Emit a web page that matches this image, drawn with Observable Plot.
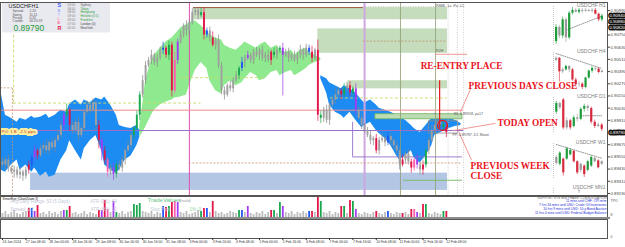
<!DOCTYPE html>
<html><head><meta charset="utf-8">
<script src="https://cdn.jsdelivr.net/npm/d3@7"></script>
<script src="https://cdn.jsdelivr.net/npm/@observablehq/plot@0.6"></script>
<style>
html,body{margin:0;padding:0;background:#fff;}
#wrap{position:relative;width:625px;height:247px;overflow:hidden;background:#fff;}
#wrap svg{position:absolute;}
.sep{position:absolute;background:#8c8c8c;}
</style></head><body><div id="wrap"></div>
<script>
// ---------- main H1 series (2-hour bars, prices in pips: 8979 = 0.89790) ----------
const firstOpen = 8950;
const closes = [
8947,8952,8944,8940,8942,8937,8940,8936,8942,8947,
8954,8961,8956,8963,8966,8961,8969,8964,8971,8976,
8986,8996,9001,8986,8981,8989,8976,8983,8999,9006,
9001,9008,8986,8971,8961,8952,8940,8944,8938,8947,
8944,8952,8961,8966,8976,8983,8996,9016,9030,9045,
9050,9055,9048,9052,9060,9062,9055,9065,9020,9050,
9068,9075,9084,9079,9087,9097,9099,9094,9097,9075,
9079,9072,9065,9070,9045,9020,9016,9025,9022,9030,
9035,9042,9048,9052,9055,9050,9058,9055,9060,9052,
9055,9050,9058,9055,9060,9062,9055,9058,9052,9055,
9050,9055,9060,9055,9062,9058,9052,9060,8996,8993,
9001,8991,9006,9011,9016,9020,9016,9022,9025,9018,
9022,9001,8993,8986,8981,8976,8971,8973,8961,8971,
8973,8969,8975,8971,8966,8961,8947,8952,8958,8950,
8944,8952,8947,8942,8947,8961,8971,8981,8986,8989,
8987,8984,8979];
const wickUp = [
4,3,5,2,4,3,5,2,3,4, 3,5,2,4,3,6,2,4,3,5, 4,3,6,2,4,3,5,3,2,4, 3,4,2,5,3,4,2,3,5,2,
4,3,2,5,3,2,4,3,5,4, 3,5,2,4,3,6,2,4,3,8, 3,4,2,5,3,4,3,2,4,5, 3,4,6,2,5,3,4,2,5,3,
4,2,5,3,4,2,3,5,2,4, 3,5,2,4,3,2,5,3,4,2, 4,3,5,2,4,3,6,2,10,4, 3,5,2,4,6,3,2,5,3,4,
2,5,3,4,2,3,5,2,4,3, 5,2,4,3,2,4,3,5,2,4, 3,2,5,3,4,2,3,5,2,4, 3,2,4];
const wickDn = [
3,5,4,2,6,3,4,5,3,4, 5,3,4,2,5,3,4,3,5,2, 3,5,2,6,4,3,5,2,4,3, 4,2,5,8,10,4,5,3,6,4,
3,4,5,2,3,4,2,5,3,4, 2,4,3,5,2,4,3,5,6,3, 4,2,3,5,4,2,3,4,2,5, 3,4,2,5,3,4,5,2,3,4,
2,4,3,5,2,3,4,2,5,3, 4,2,5,3,4,3,40,2,4,3, 2,4,3,5,2,3,4,2,6,5, 4,3,5,2,4,3,5,2,3,4,
3,5,2,4,3,2,4,5,3,4, 2,4,3,5,4,3,5,2,4,3, 5,3,4,5,5,3,4,2,3,4, 2,4,5];
const barColorCodes = ["gggggggggr","bprggggggg","gpGrgggggg","gggrprkgpG","gggggGGGgg",
"gggggbrGrk","pgggggggGr","bgrggggggg","gGbgpggggg","ggrGgGpggg","gggggbrgrG",
"ggggggrGgr","Gpggggggrg","ggbggggrgg","rkpgrGgggg","gGr"].join("");
const volumes = [
4,6,3,5,7,4,3,5,6,9, 9,6,12,4,5,3,6,4,5,3, 6,7,7,11,4,5,3,4,6,3, 5,4,3,7,7,17,8,5,16,5,
4,6,3,5,6,13,12,14,6,5, 4,6,3,5,4,11,10,11,15,16, 15,5,4,6,3,4,5,7,6,9, 9,5,16,6,4,5,3,4,6,5,
4,7,7,5,11,4,3,5,4,6, 3,5,7,7,4,15,11,5,4,6, 3,5,4,6,4,6,6,5,21,16, 5,4,6,3,5,4,11,11,4,17,
16,8,4,3,5,4,3,5,6,4, 3,5,6,4,3,5,4,4,5,3, 8,8,5,4,13,13,4,3,5,4, 3,6,6];

const timeTickIdx = [0,8,16,24,32,40,48,56,64,72,80,88,96,104,112,120,128,136,144,152];
const timeLabels = ["24 Jan 2014","27 Jan 08:00","28 Jan 00:00","28 Jan 16:00","29 Jan 08:00",
"30 Jan 00:00","30 Jan 16:00","31 Jan 08:00","3 Feb 00:00","3 Feb 16:00","4 Feb 08:00",
"5 Feb 00:00","5 Feb 16:00","6 Feb 08:00","7 Feb 00:00","7 Feb 16:00","10 Feb 08:00",
"11 Feb 00:00","11 Feb 16:00","12 Feb 08:00"];
const priceTicks = [9099,9087,9075,9063,9051,9039,9027,9015,9003,8991,8967,8955,8943,8931,8919];
const axisMarkers = [9094,9088,9082,8979];

// ---------- cloud bands ----------
const blueAIdx = [-0.6,1,3,5,6,8,10,11,13,15,16,18,20,22,23,25,27,28,30,32,34,35,37,39,40,42,44,46,47];
const blueATop = [9020,8996,8993,8989,8993,8991,8995,8993,8994,8997,8993,8996,9001,8999,9007,9011,9006,9011,9008,9013,9011,9014,9006,8996,8986,8984,8983,8986,8981];
const blueABot = [8942,8940,8947,8952,8942,8947,8940,8944,8936,8940,8935,8937,8952,8961,8971,8961,8952,8963,8971,8976,8961,8947,8942,8939,8942,8952,8956,8966,8974];
const greenIdx = [47,48,49,51,52,54,56,58,59,61,63,64,66,68,70,71,73,75,76,78,80,82,83,85,87,88,90,92,94,95,97,99,100,102,104,105,107,109];
const greenTop = [8986,9006,9030,9050,9055,9062,9068,9072,9075,9082,9085,9087,9089,9084,9079,9075,9072,9070,9065,9062,9060,9065,9068,9065,9062,9065,9068,9062,9065,9060,9058,9060,9055,9060,9062,9058,9055,9052];
const greenBot = [8974,8979,8984,8996,9001,9006,9009,9011,9013,9014,9016,9025,9040,9048,9042,9030,9020,9017,9025,9030,9025,9028,9032,9038,9035,9030,9032,9038,9040,9035,9038,9040,9035,9038,9042,9045,9048,9050];
const blue2Idx = [109,111,112,114,116,117,119,121,123,124,126,128,129,131,133,135,136,138,140,141,143,145,147,148,150,152,153,155,157];
const blue2Top = [9035,9032,9028,9025,9022,9025,9022,9018,9011,9008,9011,9006,9003,9001,8999,8996,8994,8991,8986,8983,8979,8986,8993,8998,8996,8994,8993,8991,8988];
const blue2Bot = [9032,9018,9006,8999,8996,8993,8999,8991,8984,8986,8989,8981,8978,8973,8966,8956,8952,8956,8961,8954,8949,8956,8966,8976,8979,8981,8983,8985,8986];

// ---------- zones and levels (bar index / pips) ----------
const supplyZones = [{a:65.4,b:152.4,lo:9090,hi:9102},{a:108,b:152.4,lo:9057,hi:9081},{a:118.2,b:152.4,lo:9022,hi:9030}];
const demandZones = [{a:9.6,b:152.4,lo:8922,hi:8939}];
const minorZones = [{a:127.7,b:157.5,lo:8992,hi:8997}];
const pivotBoxes = [{a:146,b:156,lo:8978,hi:8990}];
const redLevels = [{p:9001,from:-0.6,to:157.8}];
const purpleLevels = [{p:8981,from:-0.6,to:158}];
const limeLevels = [{p:9008,from:3.8,to:68},{p:9033,from:61,to:90},{p:9013,from:112.3,to:152.4}];
const limeVerticals = [{i:3.8,from:9008,to:9077}];
const brownLevels = [{p:9102,from:65.4,to:123.6}];
const tanLevels = [{p:9069,from:123.6,to:152.4},{p:8949,from:64,to:157.5},{p:9023,from:-0.6,to:3.4}];
const tanVerticals = [{i:3.4,from:8917,to:9023}];
const greyDottedLevels = [{p:9103,from:123.6,to:157.9}];
const violetLevels = [{p:8955,from:119.9,to:157.5}];
const violetVerticals = [{i:119.9,from:8955,to:8989}];
const greenLevels = [{p:8932,from:137.3,to:157.5}];
const salmonLevels = [{p:9056,from:148.3,to:159.3}];
const weekOpenFeb3 = [64];
const weekOpenFeb10 = [124];
const sessionMarks = [136.3,148.3];
const futureMarks = [152.6,155.8,157.9];

// ---------- annotations ----------
const annotations = [
 {t:"RE-ENTRY PLACE",i:143.2,p:9044},{t:"PREVIOUS DAYS CLOSE",i:159.6,p:9025},
 {t:"TODAY OPEN",i:169.5,p:8988},{t:"PREVIOUS WEEK",i:160.3,p:8946},{t:"CLOSE",i:160.3,p:8936}];
const reEntryLine = [{i:149.7,from:9030,to:8983}];
const reEntryCircle = [{i:150.7,p:8986}];
const leaders = [{i1:160.3,p1:9022,i2:156.8,p2:8999},{i1:168.8,p1:8988,i2:154.5,p2:8981},{i1:160.6,p1:8952,i2:156.2,p2:8980}];
const levelLabels = [{t:"S1, 0.89918, p=17",i:154.5,p:8997},{t:"PP, 0.89787, D1 Shoot",i:154.1,p:8977},{t:"R2H",i:148.5,p:9059},{t:"R888   Lc  Pv  LC",i:148.5,p:9104}];
const poLabel = [{t:"PO: 1 B  -2.5 pips",i:-0.3,p:8980}];
const infoBox = [{a:0,b:37,lo:9077,hi:9106}];
const infoTitle = ["USDCHF","H1"];
const infoRows = ["Spread","Swing","Period","Candle"];
const infoVals = ["2.20","11.11","0.32","00:20:19"];
const bidPrice = "0.89790";
const sessionLetters = ["S","S","T","L","E","R"];
const sessionTimes = ["03:00","08:00","08:00","09:00","09:00","07:00","02:00"];
const sessionCities = ["Sydney","Tokyo","Hongkong","Helsinki (0:1)","Frankfurt","London (0)","NewYork"];
const newsLines = ["11 mins until CHF: CPI m/m","7 hrs 34 mins until USD: Crude Oil Inventories","10 hrs 9 mins until USD: 10-y Bond Auction","11 hrs 4 mins until USD: Federal Budget Balance"];
const panelTexts = ["SmartEye (ChartZoom 3)","Avg Daily Range: 53 (5 Days)","Spread: 2.2","ATR (D1): 69","ATR (H1): 12","TradeValues","(Invalid)","Stop Pips:","1%: 0"];

// ---------- mini charts ----------
const h1Open=[8958,8973,8964,8981,8962,8988,8991,8989,8991,8990,8991,8990,8991,8987,8981];
const h1Close=[8973,8964,8981,8962,8988,8991,8989,8991,8990,8991,8990,8991,8987,8981,8985];
const h1High=[8976,8975,8984,8983,8990,8994,8993,8993,8993,8993,8992,8993,8993,8988,8987];
const h1Low=[8955,8961,8961,8957,8960,8986,8988,8987,8988,8989,8989,8988,8986,8979,8979];
const h1Codes="GgGgGGgGggggrrG";
const h4Open=[8988,8991,8971,8974,8979,8974,8959,8952,8953,8948,8962,8972,8976,8975,8970];
const h4Close=[8991,8971,8974,8979,8974,8959,8952,8953,8948,8962,8972,8976,8975,8970,8972];
const h4High=[8993,8992,8977,8981,8980,8976,8962,8957,8955,8963,8974,8979,8978,8977,8974];
const h4Low=[8986,8956,8968,8972,8970,8957,8949,8948,8945,8946,8960,8969,8972,8968,8969];
const h4Codes="grgGgrrgrGGGgrg";
const d1Open=[8980,8992,8997,8958,8968,8960,8972,8970,8984,8988,8985,8966,8960,8962];
const d1Close=[8992,8986,8958,8968,8958,8972,8970,8984,8988,8985,8966,8960,8962,8956];
const d1High=[8995,8994,8999,8972,8970,8975,8977,8986,8991,8990,8987,8969,8965,8964];
const d1Low=[8977,8983,8955,8955,8955,8958,8966,8968,8980,8981,8963,8957,8958,8953];
const d1Codes="GgrgrGgGGgrrgr";
const w1Open=[8970,8946,8964,8964,8979,8991,8955,8925,8940,8925,8940,8967,8958,8946];
const w1Close=[8949,8985,8916,9000,8994,8955,8916,8946,8910,8955,8970,8955,8934,8955];
const w1High=[8976,8990,8968,9005,9000,8994,8958,8950,8944,8960,8975,8970,8962,8958];
const w1Low=[8943,8940,8905,8960,8975,8950,8910,8915,8900,8920,8935,8950,8930,8942];
const w1Codes="gGrGGrrgrGGgrg";
const mn1Open=[8975], mn1Close=[8979], mn1High=[8990], mn1Low=[8960], mn1Codes="g";
const h1TrendIdx=[3,14], h1TrendP=[8970,8985];
const h4TrendIdx=[0,14], h4TrendP=[8998,8976];
const d1TrendIdx=[7,13], d1TrendP=[8975,8975];
const w1TrendIdx=[0,13], w1TrendP=[9015,8967];

// ================= build =================
const wrap = document.getElementById("wrap");
const FONT = "Liberation Sans, Arial, sans-serif";
const palette = {g:"#a0a0a0", r:"#e3164a", G:"#1aa84f", b:"#2356f5", p:"#a23cf0", k:"#ff5fb0"};
const volPalette = {...palette, g:"#bdbdbd"};
const miniPalette = {g:"#9a9a9a", r:"#d42a3c", G:"#1e9c3c"};
const X_DOMAIN = [-0.685, 207.19];

const candles = closes.map((c,i)=>{
  const o = i===0 ? firstOpen : closes[i-1];
  return {i, o, c, h: Math.max(o,c)+wickUp[i], l: Math.min(o,c)-wickDn[i], col: barColorCodes[i], v: volumes[i]};
});
const band = (idx, top, bot) => idx.map((i,k)=>({i, top: top[k], bot: bot[k]}));
const blueA = band(blueAIdx, blueATop, blueABot);
const greenB = band(greenIdx, greenTop, greenBot);
const blueB = band(blue2Idx, blue2Top, blue2Bot);

function place(svg, left, top){ svg.style.position="absolute"; svg.style.left=left+"px"; svg.style.top=top+"px"; wrap.appendChild(svg); }

// ---- mini charts (drawn first, under the main layer) ----
function mini(o,c,h,l,codes,tIdx,tP,title,top,height){
  const data = o.map((v,k)=>({k,o:v,c:c[k],h:h[k],l:l[k],col:codes[k]}));
  const trend = tIdx.map((k,j)=>({k,p:tP[j]}));
  const svg = Plot.plot({
    width:57, height, marginLeft:3, marginRight:3, marginTop:6, marginBottom:1,
    x:{domain:[-0.8, o.length-0.2], axis:null}, y:{axis:null, insetTop:1, insetBottom:1},
    style:{background:"transparent", fontFamily:FONT, overflow:"visible"},
    marks:[
      Plot.ruleX([-0.8], {stroke:"#aaa", strokeDasharray:"1,1", strokeWidth:0.7}),
      Plot.line(trend, {x:"k", y:"p", stroke:"#666", strokeDasharray:"1,1.3", strokeWidth:0.7}),
      Plot.ruleX(data, {x:"k", y1:"l", y2:"h", stroke:d=>miniPalette[d.col], strokeWidth:0.6}),
      Plot.ruleX(data, {x:"k", y1:"o", y2:"c", stroke:d=>miniPalette[d.col], strokeWidth:2.2}),
      Plot.text([title], {frameAnchor:"top-right", dy:-3, dx:1, text:d=>d, textAnchor:"end", fontSize:5, fill:"#808080"})
    ]});
  place(svg, 550, top);
}
mini(h1Open,h1Close,h1High,h1Low,h1Codes,h1TrendIdx,h1TrendP,"USDCHF H1",0,46);
mini(h4Open,h4Close,h4High,h4Low,h4Codes,h4TrendIdx,h4TrendP,"USDCHF H4",46,45);
mini(d1Open,d1Close,d1High,d1Low,d1Codes,d1TrendIdx,d1TrendP,"USDCHF D1",91,42);
mini(w1Open,w1Close,w1High,w1Low,w1Codes,w1TrendIdx,w1TrendP,"USDCHF W1",137,42);
mini(mn1Open,mn1Close,mn1High,mn1Low,mn1Codes,[],[],"USDCHF MN1",182,13);

// ---- main chart ----
const at = (text, x, y, o={}) => Plot.text([text], {frameAnchor:"top-left", dx:x, dy:y-2, text:d=>d, textAnchor:"start", lineAnchor:"middle", fontSize:3.3, fill:"#555", ...o});
const infoMarks = [
  Plot.rect(infoBox, {x1:"a", x2:"b", y1:"lo", y2:"hi", fill:"#e9e9f0"}),
  at(infoTitle[0], 8, 6, {fontSize:5.5, fill:"#222"}), at(infoTitle[1], 31, 6, {fontSize:5.5, fill:"#222"}),
  ...infoRows.map((t,k)=>at(t, 12, 10.7+k*3.4)),
  ...infoVals.map((t,k)=>at(t, 29, 10.7+k*3.4)),
  at(bidPrice, 13, 27.5, {fontSize:8.5, fill:"#1f9a3a"}),
  ...sessionLetters.map((t,k)=>at(t, 57, [5,10,14.5,18.5,22.5,27.5][k], {fontSize:(k===0||k===5)?5.5:4, fill:["#3b5bff","#8aa6ff","#b8b8ff","#ff8fb4","#ff5f8f","#e02040"][k], fontWeight:"bold"})),
  ...sessionTimes.map((t,k)=>at(t, 67, 4.3+k*3.8, {fontSize:3.1, fill:"#808080"})),
  ...sessionCities.map((t,k)=>at(t, 80, 4.3+k*3.8, {fontSize:3.1, fill:["#666","#2a9d3a","#2a9d3a","#2a9d3a","#2a9d3a","#444","#444"][k]}))
];

const main = Plot.plot({
  width:625, height:196, marginLeft:0, marginRight:18, marginTop:2, marginBottom:1,
  x:{domain:X_DOMAIN, axis:null},
  y:{domain:[8917, 9107]},
  style:{background:"transparent", fontFamily:FONT, overflow:"visible"},
  marks:[
    Plot.rect(supplyZones, {x1:"a", x2:"b", y1:"lo", y2:"hi", fill:"#b7d4ab", fillOpacity:0.8}),
    Plot.rect(demandZones, {x1:"a", x2:"b", y1:"lo", y2:"hi", fill:"#b3c7e5"}),
    Plot.areaY(blueA, {x:"i", y1:"bot", y2:"top", fill:"#1c8cf2"}),
    Plot.areaY(greenB, {x:"i", y1:"bot", y2:"top", fill:"#8fea8f"}),
    Plot.areaY(blueB, {x:"i", y1:"bot", y2:"top", fill:"#1c8cf2"}),
    Plot.rect(minorZones, {x1:"a", x2:"b", y1:"lo", y2:"hi", fill:"#bcdcb2", stroke:"#6fb060", strokeWidth:0.8}),
    Plot.rect(pivotBoxes, {x1:"a", x2:"b", y1:"lo", y2:"hi", fill:"none", stroke:"#888", strokeWidth:0.8}),
    Plot.ruleX(weekOpenFeb3, {stroke:"#e04fb0", strokeWidth:1}),
    Plot.ruleX(weekOpenFeb10, {stroke:"#cfa6e2", strokeWidth:2}),
    Plot.ruleX(sessionMarks, {stroke:"#8e9c74", strokeWidth:0.8}),
    Plot.ruleX(futureMarks, {stroke:"#c4c4c4", strokeWidth:0.8, strokeDasharray:"1,1.5"}),
    Plot.ruleY(redLevels, {y:"p", x1:"from", x2:"to", stroke:"#f08a8a", strokeWidth:1}),
    Plot.ruleY(purpleLevels, {y:"p", x1:"from", x2:"to", stroke:"#9a6fc9", strokeWidth:1.1}),
    Plot.ruleY(limeLevels, {y:"p", x1:"from", x2:"to", stroke:"#c8dc6a", strokeWidth:0.9, strokeDasharray:"3,2"}),
    Plot.ruleX(limeVerticals, {x:"i", y1:"from", y2:"to", stroke:"#c8dc6a", strokeWidth:0.9, strokeDasharray:"3,2"}),
    Plot.ruleY(brownLevels, {y:"p", x1:"from", x2:"to", stroke:"#9c5a3c", strokeWidth:1}),
    Plot.ruleY(tanLevels, {y:"p", x1:"from", x2:"to", stroke:"#c49470", strokeWidth:0.8, strokeDasharray:"2,1.5"}),
    Plot.ruleX(tanVerticals, {x:"i", y1:"from", y2:"to", stroke:"#c49470", strokeWidth:0.8, strokeDasharray:"2,1.5"}),
    Plot.ruleY(greyDottedLevels, {y:"p", x1:"from", x2:"to", stroke:"#b8b8b8", strokeWidth:0.8, strokeDasharray:"1,1.5"}),
    Plot.ruleY(violetLevels, {y:"p", x1:"from", x2:"to", stroke:"#9370c8", strokeWidth:0.9}),
    Plot.ruleX(violetVerticals, {x:"i", y1:"from", y2:"to", stroke:"#9370c8", strokeWidth:0.9}),
    Plot.ruleY(greenLevels, {y:"p", x1:"from", x2:"to", stroke:"#7cbf6c", strokeWidth:1}),
    Plot.ruleY(salmonLevels, {y:"p", x1:"from", x2:"to", stroke:"#f08a8a", strokeWidth:0.9}),
    Plot.ruleX(candles, {x:"i", y1:"l", y2:"h", stroke:d=>d.col==="g"?"#858585":palette[d.col], strokeWidth:0.7}),
    Plot.ruleX(candles, {x:"i", y1:"o", y2:"c", stroke:d=>palette[d.col], strokeWidth:1.9}),
    Plot.ruleX(reEntryLine, {x:"i", y1:"from", y2:"to", stroke:"#e31a1c", strokeWidth:1.2}),
    Plot.dot(reEntryCircle, {x:"i", y:"p", r:5, stroke:"#e31a1c", strokeWidth:1.2, fill:"none"}),
    Plot.link(leaders, {x1:"i1", y1:"p1", x2:"i2", y2:"p2", stroke:"#f08a8a", strokeWidth:0.9}),
    Plot.text(levelLabels, {x:"i", y:"p", text:"t", textAnchor:"start", fontSize:3.6, fill:"#555"}),
    Plot.text(poLabel, {x:"i", y:"p", text:"t", textAnchor:"start", fontSize:4.3, fill:"#c0302b", stroke:"#fff0a0", strokeWidth:4, paintOrder:"stroke"}),
    Plot.text(annotations, {x:"i", y:"p", text:"t", textAnchor:"start", fontFamily:"Liberation Serif, Times New Roman, serif", fontWeight:"bold", fontSize:9.3, fill:"#e8141c"}),
    ...infoMarks,
    Plot.frame({stroke:"#555", strokeWidth:1}),
    Plot.axisY(priceTicks, {anchor:"right", label:null, tickFormat:d=>(d/10000).toFixed(5), fontSize:4.3, tickSize:2, tickPadding:1, color:"#444"}),
    Plot.text(axisMarkers, {y:d=>d, frameAnchor:"right", dx:17.5, text:d=>(d/10000).toFixed(5), textAnchor:"end", fontSize:4.3, fill:"#fff", stroke:"#111", strokeWidth:3, paintOrder:"stroke"})
  ]
});
place(main, 0, 0);

// ---- indicator panel ----
const pt = (text, x, y, o={}) => Plot.text([text], {frameAnchor:"top-left", dx:x, dy:y-196, text:d=>d, textAnchor:"start", lineAnchor:"middle", fontSize:4.5, fill:"#c3c8d6", ...o});
const ind = Plot.plot({
  width:625, height:23, marginLeft:0, marginRight:18, marginTop:1, marginBottom:1,
  x:{domain:X_DOMAIN, axis:null}, y:{domain:[0,21], axis:null},
  style:{background:"transparent", fontFamily:FONT, overflow:"visible"},
  marks:[
    Plot.ruleX(candles, {x:"i", y1:0, y2:"v", stroke:d=>volPalette[d.col], strokeWidth:1.8}),
    pt(panelTexts[1], 10, 201.5), pt(panelTexts[2], 10, 209.5),
    pt(panelTexts[3], 90, 201), pt(panelTexts[4], 90, 209.5),
    pt(panelTexts[5], 147, 200, {fontSize:6, fill:"#68c488"}),
    pt(panelTexts[6], 179, 200.5, {fontSize:3.2, fill:"#9a9a9a"}),
    pt(panelTexts[7], 150, 209.5), pt(panelTexts[8], 189, 209.5, {fill:"#8fd3a0"}),
    pt(panelTexts[0], 2, 198.3, {fontSize:3.2, fill:"#222"}),
    Plot.text(["SUPPORT SYSTEM PHASE: CONSOLIDATION"], {frameAnchor:"top-right", dx:-1, dy:1.2, text:d=>d, textAnchor:"end", lineAnchor:"middle", fontSize:3.2, fill:"#555"}),
    ...newsLines.map((t,k)=>Plot.text([t], {frameAnchor:"top-right", dx:-1, dy:4.8+k*4, text:d=>d, textAnchor:"end", lineAnchor:"middle", fontSize:3.3, fill:"#1f2fd6"})),
    Plot.text(["TPO"], {frameAnchor:"top-right", dx:3, dy:2.5, text:d=>d, textAnchor:"start", fontSize:3.5, fill:"#555"}),
    Plot.text(["8"], {frameAnchor:"bottom-right", dx:3, dy:-2, text:d=>d, textAnchor:"start", fontSize:3.5, fill:"#555"}),
    Plot.frame({stroke:"#555"})
  ]
});
place(ind, 0, 195);

const sep = document.createElement("div"); sep.className="sep";
sep.style.left="0px"; sep.style.top="217px"; sep.style.width="610px"; sep.style.height="2px";
wrap.appendChild(sep);

// ---- lower empty panel + time axis ----
const low = Plot.plot({
  width:625, height:28, marginLeft:0, marginRight:18, marginTop:0, marginBottom:9,
  x:{domain:X_DOMAIN},
  style:{background:"transparent", fontFamily:FONT, overflow:"visible"},
  marks:[
    Plot.frame({stroke:"#555"}),
    Plot.text(["0"], {frameAnchor:"bottom-right", dx:3, dy:-1, text:d=>d, textAnchor:"start", fontSize:3.5, fill:"#555"}),
    Plot.axisX(timeTickIdx, {anchor:"bottom", label:null, tickFormat:d=>timeLabels[timeTickIdx.indexOf(d)], textAnchor:"start", fontSize:3.4, tickSize:2, tickPadding:0.5, color:"#333"})
  ]
});
place(low, 0, 219);
</script></body></html>
